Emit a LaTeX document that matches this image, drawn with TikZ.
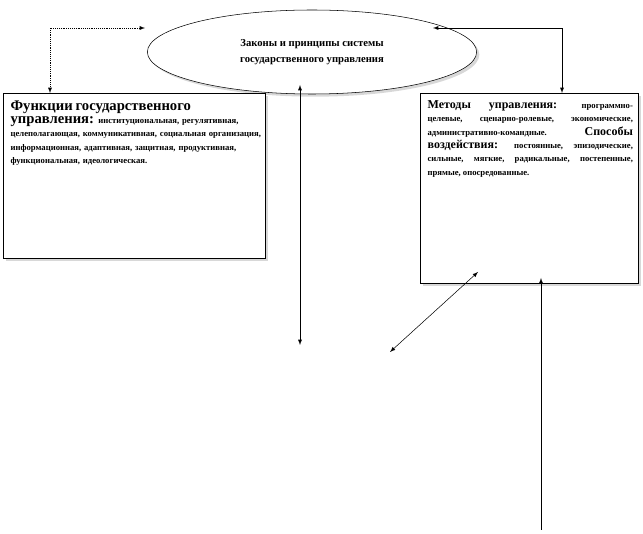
\documentclass[tikz,border=0pt]{standalone}
\usepackage{fontspec}
\setmainfont{Liberation Serif}
\usetikzlibrary{shadows}
\usetikzlibrary{shapes.geometric}
\begin{document}
\begin{tikzpicture}[x=0.75pt,y=-0.75pt,>=latex,
    frame/.style={draw,fill=white,drop shadow={shadow xshift=2pt,shadow yshift=-2pt,fill=gray!60}},
    txt/.style={inner sep=4pt,anchor=north west,font=\bfseries\fontsize{6.5}{10}\selectfont}]
    \useasboundingbox (0,0) rectangle (643,534);
    \node [draw,ellipse,minimum width=247pt,minimum height=63pt,fill=white,
      drop shadow={shadow xshift=2pt,shadow yshift=-2pt,fill=gray!60},
      font=\bfseries\fontsize{8}{12}\selectfont,align=center] (zak) at (312,52)
      {Законы и принципы системы\\государственного управления};
    \path [frame] (3,93) rectangle (265,258);
    \path [frame] (420,93) rectangle (638,283);
    \coordinate (funn) at (50,93);
    \coordinate (metn) at (562,93);
    \node [txt,text width=188pt,align=left] (fun) at (5,95)
      {{\fontsize{11}{14}\selectfont Функции государственного управления:}
       институциональная, регулятивная, целеполагающая, коммуникативная, социальная
       организация, информационная, адаптивная, защитная, продуктивная,
       функциональная, идеологическая.};
    \node [txt,text width=154pt,align=justify] (met) at (422,95)
      {{\fontsize{9}{11}\selectfont Методы управления:} программно-целевые,
       сценарно-ролевые, экономические, административно-командные.
       {\fontsize{9}{11}\selectfont Способы воздействия:} постоянные,
       эпизодические, сильные, мягкие, радикальные, постепенные, прямые,
       опосредованные.};
    \coordinate (c1) at (50,28);
    \coordinate (c2) at (562,28);
    \coordinate (a1) at (300,85);
    \coordinate (a2) at (300,345);
    \coordinate (b1) at (390,352);
    \coordinate (b2) at (478,272);
    \coordinate (d1) at (541,530);
    \coordinate (d2) at (541,278);
    \draw [<->,densely dotted] (funn) -- (c1) -- (145,28);
    \draw [<->] (433,28) -- (c2) -- (metn);
    \draw [<->] (a1) -- (a2);
    \draw [<->] (b1) -- (b2);
    \draw [->] (d1) -- (d2);
\end{tikzpicture}
\end{document}
